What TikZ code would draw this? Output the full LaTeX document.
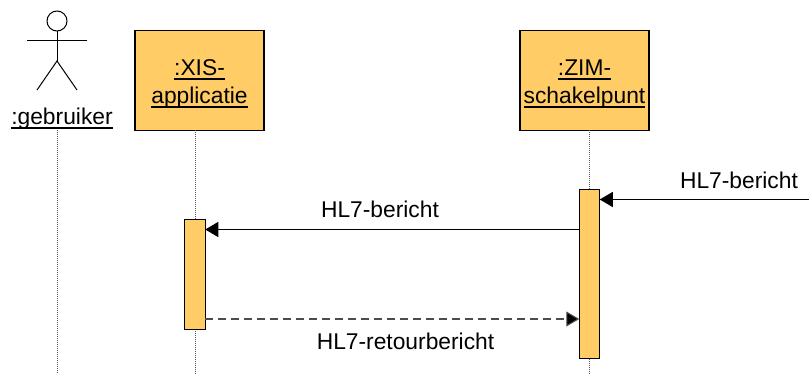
\documentclass[tikz,border=0pt]{standalone}
\usepackage{fontspec}
\setmainfont{Liberation Sans}
\usetikzlibrary{arrows.meta, calc}
\definecolor{myorange}{RGB}{255, 204, 102}
\newcommand{\ulined}[1]{\setbox0\hbox{#1}\rlap{\rule[-4.6pt]{\wd0}{1.8pt}}\box0}
\tikzstyle{object} = [draw=black, outer sep=0, inner sep=0,
    minimum width=129, minimum height=100, line width=1.2,
    fill=myorange, font=\fontsize{22.8}{28}\selectfont, align=center]
\tikzstyle{bar} = [draw=black, outer sep=0, inner sep=0,
    minimum width=20.5, line width=1, fill=myorange]
\tikzstyle{lifeline} = [draw=black!65, line width=1, dash pattern=on 1pt off 1pt]
\tikzstyle{call} = [-{Triangle[length=13,width=15]}, line width=1.1, black]
\tikzstyle{reply} = [-{Triangle[length=13,width=15,fill=black]}, line width=1.1, black!70,
    dash pattern=on 8pt off 5pt]
\tikzstyle{msg} = [inner sep=0, anchor=base, font=\fontsize{22.8}{28}\selectfont]
\tikzstyle{stick} = [line width=1, black]

\begin{document}
\begin{tikzpicture}[x=1pt, y=-1pt]

\useasboundingbox (0,0) rectangle (809,374);

%%% objects
\node[msg] (gebruiker) at (62,124.5) {\ulined{:gebruiker}};
\node[object] (xis) at (199.5,80.5) {\rule{0pt}{22pt}\ulined{:XIS-}\\\ulined{applicatie}};
\node[object] (zim) at (584.5,80.5) {\rule{0pt}{22pt}\ulined{:ZIM-}\\\ulined{schakelpunt}};

%%% actor
\node[draw, stick, circle, minimum size=20, inner sep=0] (head) at (57,21) {};
\coordinate (hip) at (57,61);
\draw[stick] (head) -- (hip);
\draw[stick] (27,40.5) -- (87,40.5);
\draw[stick] (37,90) -- (hip) -- (77,90);

%%% lifelines
\coordinate (endgebruiker) at (57,374);
\coordinate (endxis) at (195,374);
\coordinate (endzim) at (589,374);
\draw[lifeline] (57,130) -- (endgebruiker);
\draw[lifeline] (195,130.5) -- (endxis);
\draw[lifeline] (589,130.5) -- (endzim);

%%% activations
\node[bar, minimum height=168.5] (barzim) at (589.5,273.75) {};
\node[bar, minimum height=109.5] (barxis) at (195,274.25) {};

%%% messages
\coordinate (incoming) at (809,199.5);
\draw[call] (incoming) -- (barzim.east |- incoming);
\draw[call] (barzim.west |- 0,229.5) -- (barxis.east |- 0,229.5);
\draw[reply] (barxis.east |- 0,319) -- (barzim.west |- 0,319);

\node[msg] (msgin) at (739,188.5) {HL7-bericht};
\node[msg] (msgcall) at (380,217.5) {HL7-bericht};
\node[msg] (msgreply) at (405.5,349) {HL7-retourbericht};

\end{tikzpicture}
\end{document}
